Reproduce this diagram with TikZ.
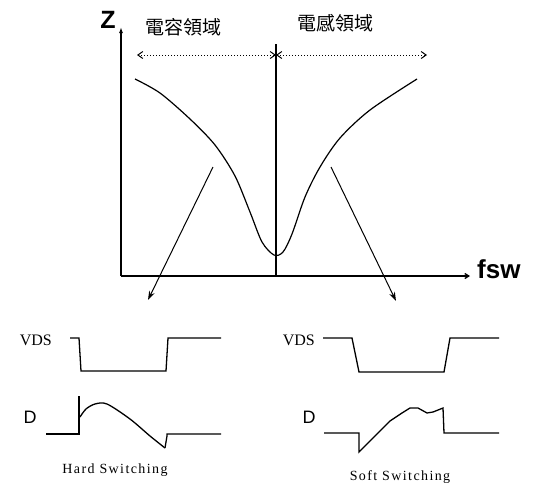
\documentclass[tikz,border=0pt]{standalone}
\usepackage{fontspec}
\setmainfont{Liberation Serif}
\newfontfamily\sansf{Liberation Sans}
\newfontfamily\cjk{Noto Sans CJK TC}
\newfontfamily\capf[LetterSpace=10]{Liberation Serif}
\usetikzlibrary{arrows.meta}
\definecolor{cInk}{HTML}{000000}
\tikzset{
  axis/.style={line width=1.3pt, cInk},
  curve/.style={line width=1.2pt, cInk},
  wave/.style={line width=1.3pt, cInk, line join=miter},
  region/.style={dotted, line width=1pt, cInk,
                 {Straight Barb[length=5pt,width=7pt]}-{Straight Barb[length=5pt,width=7pt]}},
  arr/.style={-{Stealth[length=9pt,width=6pt]}, line width=1pt, cInk},
  axlbl/.style={font=\sansf\bfseries\fontsize{26}{26}\selectfont, inner sep=0pt},
  rlbl/.style={font=\cjk\fontsize{19}{19}\selectfont, inner sep=0pt},
  siglbl/.style={font=\fontsize{16}{16}\selectfont, inner sep=0pt},
  dlbl/.style={font=\sansf\fontsize{18}{18}\selectfont, inner sep=0pt},
  caplbl/.style={font=\capf\fontsize{14}{14}\selectfont, inner sep=0pt}
}
\begin{document}
\begin{tikzpicture}[x=1pt,y=-1pt]
\useasboundingbox (0,0) rectangle (539,488);
% axes
\coordinate (O) at (121,276);
\coordinate (ztop) at (121,27);
\coordinate (xend) at (470,276);
\draw[axis, -{Latex[length=6pt,width=4pt]}] (O) -- (ztop);
\draw[axis, -{Straight Barb[length=4pt,width=5pt]}] (O) -- (xend);
\node[axlbl, font=\sansf\bfseries\fontsize{25}{25}\selectfont] (zlbl) at (108,20) {Z};
\node[axlbl, anchor=base west] (fsw) at (477,278) {fsw};
% resonance line and regions
\coordinate (ctop) at (276,44);
\coordinate (cbot) at (276,276);
\draw[axis, line width=1.2pt] (ctop) -- (cbot);
\coordinate (capL) at (137,55);
\coordinate (mid) at (276,55);
\coordinate (indR) at (427,55);
\draw[region] (capL) -- (mid);
\draw[region] (mid) -- (indR);
\node[rlbl] (caprg) at (183,27) {電容領域};
\node[rlbl] (indrg) at (335,23) {電感領域};
% impedance curve
\draw[curve] plot[smooth] coordinates {(135,79) (160,93) (190,119) (215,145)
  (235,176) (250,212) (262,242) (274,255) (283,252) (292,234) (305,197) (320,167)
  (340,138) (370,110) (417,79)};
% pointers to the waveforms
\coordinate (hsFrom) at (213,167);
\coordinate (hsTo) at (148,300);
\coordinate (ssFrom) at (331,167);
\coordinate (ssTo) at (396,301);
\draw[arr] (hsFrom) -- (hsTo);
\draw[arr] (ssFrom) -- (ssTo);
% hard switching
\node[siglbl, anchor=east] (vdsH) at (52,340) {VDS};
\draw[wave] (70,338) -- (79,338) -- (81,371) -- (166,371) -- (168,338) -- (221,338);
\node[dlbl] (dH) at (30,417) {D};
\draw[wave] (46,434) -- (79,434) -- (79,418);
\draw[line width=2.2pt, cInk] (79,418) -- (79,396);
\draw[wave] plot[smooth, tension=0.5] coordinates {(80,417) (86,409) (95,404) (107,404)
  (130,419) (150,436) (165,448)};
\draw[wave] (165,448) -- (167,436) -- (167,434) -- (221,434);
\node[caplbl] (capH) at (115,470) {Hard Switching};
% soft switching
\node[siglbl, anchor=east] (vdsS) at (315,340) {VDS};
\draw[wave] (323,338) -- (352,338) -- (359,372) -- (444,372) -- (450,338) -- (499,338);
\node[dlbl] (dS) at (309,417) {D};
\draw[wave] (324,433) -- (359,433) -- (359,452) -- (390,421) -- (402,413) -- (410,408)
  -- (418,408) -- (427,413) -- (433,412) -- (443,408) -- (444,433) -- (499,433);
\node[caplbl] (capS) at (400,477) {Soft Switching};
\end{tikzpicture}
\end{document}
